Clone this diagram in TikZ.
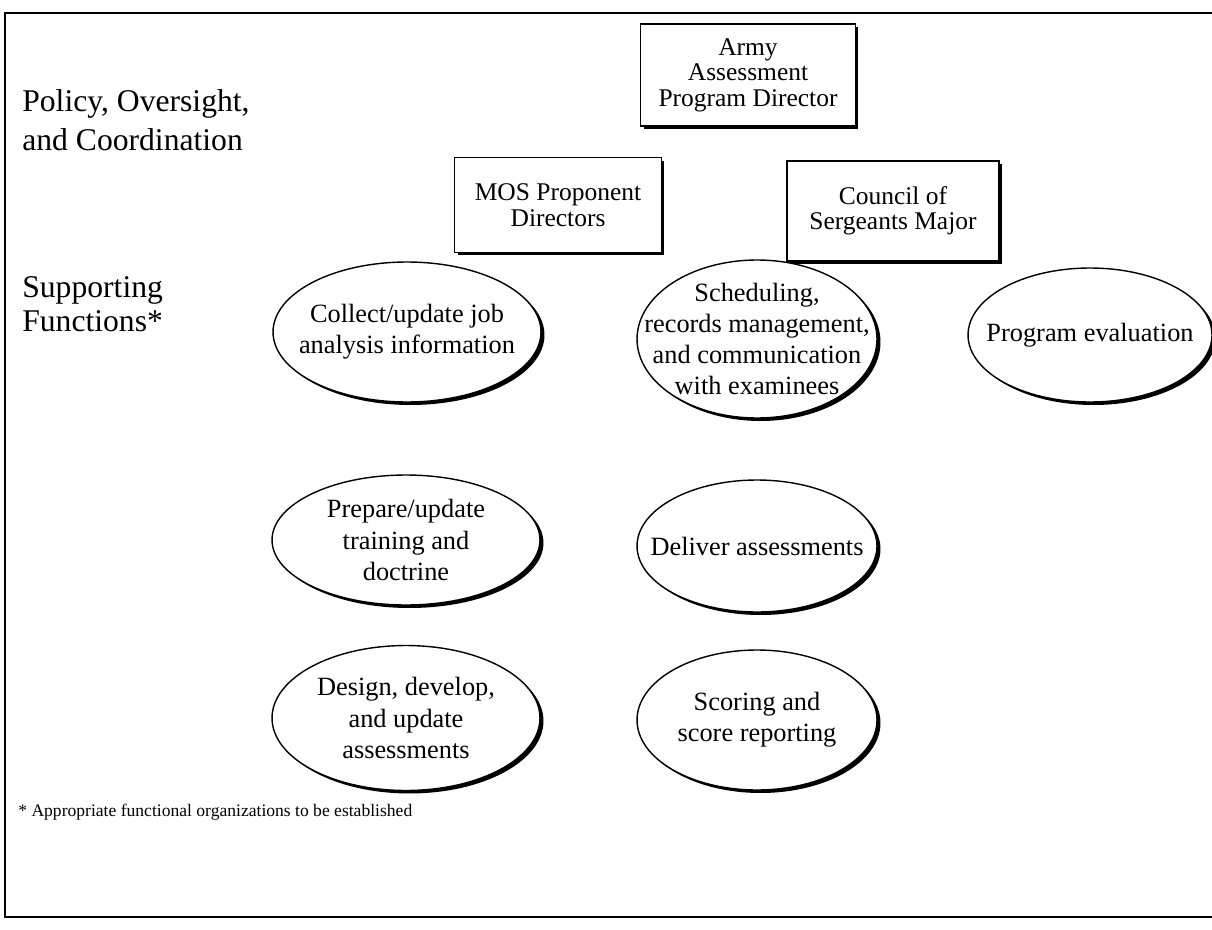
\documentclass[tikz,border=0pt]{standalone}
\usepackage{fontspec}
\setmainfont{Liberation Serif}
\usetikzlibrary{shapes.geometric, shadows, positioning}

\tikzset{
  orgbox/.style={draw, line width=0.9pt, fill=white, align=center, inner sep=2pt,
    font=\fontsize{14.5}{14.5}\selectfont,
    drop shadow={shadow xshift=0.06cm, shadow yshift=-0.06cm, fill=black, opacity=1}},
  func/.style={ellipse, draw, line width=0.8pt, fill=white, align=center,
    inner xsep=-22pt, inner ysep=-8pt,
    font=\fontsize{15}{17.8}\selectfont,
    drop shadow={shadow xshift=0.07cm, shadow yshift=-0.06cm, fill=black, opacity=1}},
  tier/.style={align=left, anchor=west, inner sep=0pt, font=\fontsize{18}{22.5}\selectfont}
}

\begin{document}
\begin{tikzpicture}[x=0.02cm, y=-0.02cm]
  \useasboundingbox (0,0) rectangle (1212,929);
  % Frame
  \draw[line width=1pt] (1212,13) -- (5,13) -- (5,917) -- (1212,917);

  % Tier labels
  \node[tier] (policylbl) at (22,120) {Policy, Oversight,\\and Coordination};
  \node[tier, font=\fontsize{18}{19.5}\selectfont] (supportlbl) at (22,304) {Supporting\\Functions*};

  % Policy boxes
  \node[orgbox, minimum width=4.3cm, minimum height=2.04cm] (director) at (748,75) {Army\\Assessment\\Program Director};
  \node[orgbox, minimum width=4.14cm, minimum height=1.9cm] (mosdirs) at (558,205) {MOS Proponent\\Directors};
  \node[orgbox, minimum width=4.24cm, minimum height=2cm] (council) at (893,211) {Council of\\Sergeants Major};

  % Supporting functions
  \node[func, minimum width=5.36cm, minimum height=2.8cm] (collect) at (407,332) {Collect/update job\\analysis information};
  \node[func, minimum width=4.8cm, minimum height=3.16cm] (sched) at (757,339) {Scheduling,\\records management,\\and communication\\with examinees};
  \node[func, minimum width=4.88cm, minimum height=2.68cm] (progeval) at (1090,335) {Program evaluation};
  \node[func, minimum width=5.36cm, minimum height=2.6cm] (prepare) at (406,540) {Prepare/update\\training and\\doctrine};
  \node[func, minimum width=4.8cm, minimum height=2.64cm] (deliver) at (757,546) {Deliver assessments};
  \node[func, minimum width=5.36cm, minimum height=2.9cm] (design) at (406,718) {Design, develop,\\and update\\assessments};
  \node[func, minimum width=4.8cm, minimum height=2.8cm] (scoring) at (757,720) {Scoring and\\score reporting};

  % Footnote
  \node[anchor=west, inner sep=0pt, font=\fontsize{10}{12}\selectfont] (footnote) at (18,812) {* Appropriate functional organizations to be established};
\end{tikzpicture}
\end{document}
